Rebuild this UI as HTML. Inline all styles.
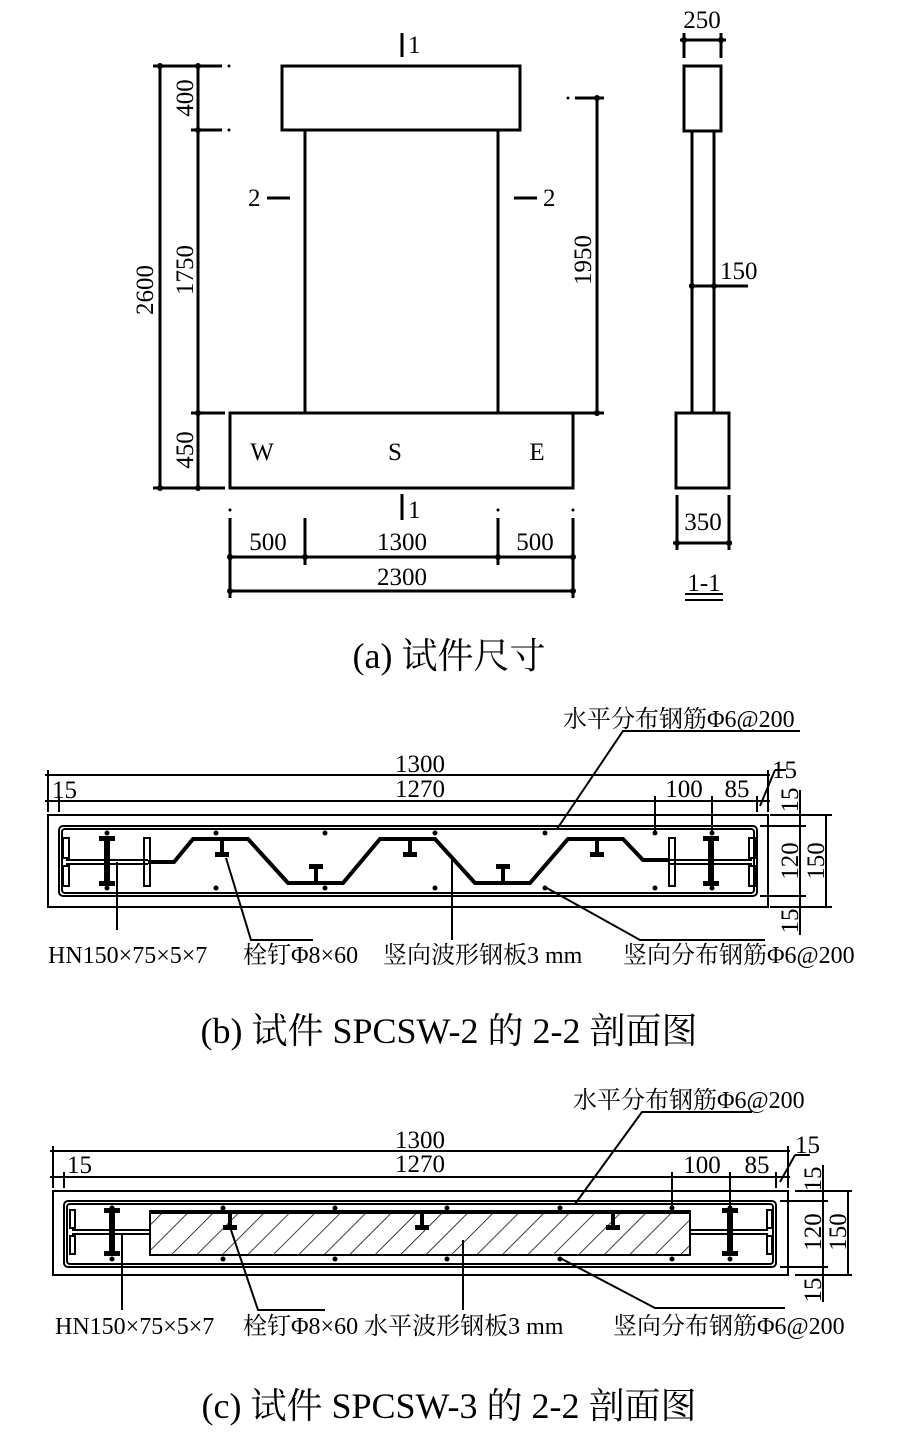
<!DOCTYPE html>
<html><head><meta charset="utf-8"><style>
html,body{margin:0;padding:0;background:#fff;}
svg{display:block;}
text{font-family:"Liberation Serif","Noto Serif CJK SC",serif;fill:#000;}
.n{font-size:25px;}
.c{font-size:24px;}
.cap{font-size:36px;}
</style></head><body>
<svg width="898" height="1447" viewBox="0 0 898 1447" xmlns="http://www.w3.org/2000/svg">
<defs>
<pattern id="h" width="18" height="18" patternUnits="userSpaceOnUse" patternTransform="rotate(45)">
<line x1="0" y1="0" x2="0" y2="18" stroke="#000" stroke-width="1.5"/>
</pattern>
</defs>
<g stroke="#000" fill="none" stroke-width="3">
<rect x="282" y="66" width="238" height="64"/>
<line x1="305" y1="130" x2="305" y2="413"/>
<line x1="498" y1="130" x2="498" y2="413"/>
<rect x="230" y="413" width="343" height="75"/>
<line x1="402" y1="33" x2="402" y2="57"/>
<line x1="402" y1="494" x2="402" y2="520"/>
<line x1="267" y1="198" x2="290" y2="198"/>
<line x1="514" y1="198" x2="537" y2="198"/>
<line x1="160" y1="66" x2="160" y2="488"/>
<line x1="198" y1="66" x2="198" y2="488"/>
<line x1="153" y1="66" x2="222" y2="66"/>
<line x1="191" y1="130" x2="222" y2="130"/>
<line x1="191" y1="413" x2="225" y2="413"/>
<line x1="153" y1="488" x2="225" y2="488"/>
<line x1="597" y1="98" x2="597" y2="413"/>
<line x1="575" y1="98" x2="604" y2="98"/>
<line x1="573" y1="413" x2="604" y2="413"/>
<line x1="230" y1="557" x2="573" y2="557"/>
<line x1="230" y1="591" x2="573" y2="591"/>
<line x1="230" y1="518" x2="230" y2="598"/>
<line x1="305" y1="518" x2="305" y2="565"/>
<line x1="498" y1="518" x2="498" y2="565"/>
<line x1="573" y1="518" x2="573" y2="598"/>
<rect x="684" y="66" width="37" height="65"/>
<line x1="692" y1="131" x2="692" y2="413"/>
<line x1="714" y1="131" x2="714" y2="413"/>
<rect x="676" y="413" width="53" height="75"/>
<line x1="684" y1="33" x2="684" y2="58"/>
<line x1="721" y1="33" x2="721" y2="58"/>
<line x1="680" y1="40" x2="726" y2="40"/>
<line x1="689" y1="286" x2="748" y2="286"/>
<line x1="677" y1="495" x2="677" y2="550"/>
<line x1="729" y1="495" x2="729" y2="550"/>
<line x1="673" y1="543" x2="732" y2="543"/>
<line x1="685" y1="594" x2="723" y2="594" stroke-width="2"/>
<line x1="685" y1="600" x2="723" y2="600" stroke-width="2"/>
</g>
<g fill="#000">
<circle cx="160" cy="66" r="3"/><circle cx="198" cy="66" r="3"/><circle cx="198" cy="130" r="3"/>
<circle cx="198" cy="413" r="3"/><circle cx="160" cy="488" r="3"/><circle cx="198" cy="488" r="3"/>
<circle cx="597" cy="98" r="3"/><circle cx="597" cy="413" r="3"/>
<circle cx="230" cy="557" r="3"/><circle cx="305" cy="557" r="3"/><circle cx="498" cy="557" r="3"/><circle cx="573" cy="557" r="3"/>
<circle cx="230" cy="591" r="3"/><circle cx="573" cy="591" r="3"/>
<circle cx="684" cy="40" r="3"/><circle cx="721" cy="40" r="3"/><circle cx="692" cy="286" r="3"/><circle cx="714" cy="286" r="3"/>
<circle cx="677" cy="543" r="3"/><circle cx="729" cy="543" r="3"/>
<circle cx="229" cy="66" r="1.5"/><circle cx="229" cy="130" r="1.5"/><circle cx="568" cy="98" r="1.5"/>
<circle cx="230" cy="510" r="1.5"/><circle cx="498" cy="510" r="1.5"/><circle cx="573" cy="510" r="1.5"/>
</g>
<text class="n" x="408" y="53">1</text>
<text class="n" x="408" y="518">1</text>
<text class="n" x="248" y="206">2</text>
<text class="n" x="543" y="206">2</text>
<text class="n" transform="translate(153,290) rotate(-90)" text-anchor="middle">2600</text>
<text class="n" transform="translate(193,98) rotate(-90)" text-anchor="middle">400</text>
<text class="n" transform="translate(193,270) rotate(-90)" text-anchor="middle">1750</text>
<text class="n" transform="translate(193,450) rotate(-90)" text-anchor="middle">450</text>
<text class="n" transform="translate(591,260) rotate(-90)" text-anchor="middle">1950</text>
<text class="n" x="262" y="460" text-anchor="middle">W</text>
<text class="n" x="395" y="460" text-anchor="middle">S</text>
<text class="n" x="537" y="460" text-anchor="middle">E</text>
<text class="n" x="268" y="550" text-anchor="middle">500</text>
<text class="n" x="402" y="550" text-anchor="middle">1300</text>
<text class="n" x="535" y="550" text-anchor="middle">500</text>
<text class="n" x="402" y="585" text-anchor="middle">2300</text>
<text class="n" x="702" y="28" text-anchor="middle">250</text>
<text class="n" x="720" y="279">150</text>
<text class="n" x="703" y="530" text-anchor="middle">350</text>
<text class="n" x="704" y="591" text-anchor="middle">1-1</text>
<text class="cap" x="449" y="668" text-anchor="middle">(a)  试件尺寸</text>

<g stroke="#000" fill="none" stroke-width="2">
<rect x="48" y="815" width="720" height="92"/>
<rect x="59" y="826" width="698" height="70" rx="4"/>
<rect x="62" y="829" width="692" height="64" rx="3"/>
<line x1="45" y1="775" x2="770" y2="775"/>
<line x1="45" y1="801" x2="770" y2="801"/>
<line x1="48" y1="770" x2="48" y2="812"/>
<line x1="59" y1="796" x2="59" y2="812"/>
<line x1="768" y1="770" x2="768" y2="812"/>
<line x1="757" y1="796" x2="757" y2="812"/>
<line x1="655" y1="796" x2="655" y2="833"/>
<line x1="712" y1="796" x2="712" y2="833"/>
<line x1="760" y1="806" x2="775" y2="770"/><line x1="775" y1="770" x2="786" y2="770"/>
<line x1="800" y1="790" x2="800" y2="935"/>
<line x1="826" y1="815" x2="826" y2="907"/>
<line x1="770" y1="815" x2="832" y2="815"/>
<line x1="760" y1="826" x2="806" y2="826"/>
<line x1="760" y1="896" x2="806" y2="896"/>
<line x1="770" y1="907" x2="832" y2="907"/>
<line x1="66" y1="860" x2="148" y2="860"/><line x1="66" y1="864" x2="148" y2="864"/>
<line x1="670" y1="860" x2="752" y2="860"/><line x1="670" y1="864" x2="752" y2="864"/>
<rect x="63" y="838" width="6" height="20"/><rect x="63" y="866" width="6" height="20"/>
<rect x="144" y="838" width="6" height="48"/>
<rect x="669" y="838" width="6" height="48"/>
<rect x="749" y="838" width="6" height="20"/><rect x="749" y="866" width="6" height="20"/>
<polyline points="117,862 117,930"/>
<polyline points="226,858 251,940 313,940"/>
<polyline points="452,860 452,940"/>
<polyline points="557,829 623,731 800,731"/>
<polyline points="545,887 640,940 765,940"/>
</g>
<polyline points="148,862 174,862 193,839 248,839 288,883 343,883 380,839 435,839 475,883 530,883 568,839 623,839 643,860 670,860" fill="none" stroke="#000" stroke-width="4"/>
<g fill="#000">
<rect x="104" y="838" width="6" height="46"/><rect x="99" y="836" width="16" height="5"/><rect x="99" y="881" width="16" height="5"/>
<rect x="708" y="838" width="6" height="46"/><rect x="703" y="836" width="16" height="5"/><rect x="703" y="881" width="16" height="5"/>
<rect x="220" y="839" width="4" height="14"/><rect x="215" y="852" width="14" height="5"/>
<rect x="408" y="839" width="4" height="14"/><rect x="403" y="852" width="14" height="5"/>
<rect x="595" y="839" width="4" height="14"/><rect x="590" y="852" width="14" height="5"/>
<rect x="314" y="869" width="4" height="14"/><rect x="309" y="864" width="14" height="5"/>
<rect x="501" y="869" width="4" height="14"/><rect x="496" y="864" width="14" height="5"/>
<circle cx="107" cy="833" r="2.5"/><circle cx="216" cy="833" r="2.5"/><circle cx="325" cy="833" r="2.5"/><circle cx="435" cy="833" r="2.5"/><circle cx="545" cy="833" r="2.5"/><circle cx="655" cy="833" r="2.5"/><circle cx="712" cy="833" r="2.5"/>
<circle cx="107" cy="888" r="2.5"/><circle cx="216" cy="888" r="2.5"/><circle cx="325" cy="888" r="2.5"/><circle cx="435" cy="888" r="2.5"/><circle cx="545" cy="888" r="2.5"/><circle cx="655" cy="888" r="2.5"/><circle cx="712" cy="888" r="2.5"/>
</g>
<text class="n" x="420" y="772" text-anchor="middle">1300</text>
<text class="n" x="420" y="797" text-anchor="middle">1270</text>
<text class="n" x="52" y="798">15</text>
<text class="n" x="684" y="797" text-anchor="middle">100</text>
<text class="n" x="737" y="797" text-anchor="middle">85</text>
<text class="n" x="772" y="778">15</text>
<text class="n" transform="translate(798,800) rotate(-90)" text-anchor="middle">15</text>
<text class="n" transform="translate(798,861) rotate(-90)" text-anchor="middle">120</text>
<text class="n" transform="translate(798,921) rotate(-90)" text-anchor="middle">15</text>
<text class="n" transform="translate(824,861) rotate(-90)" text-anchor="middle">150</text>
<text class="c" x="563" y="727">水平分布钢筋Φ6@200</text>
<text class="c" x="48" y="963">HN150×75×5×7</text>
<text class="c" x="243" y="963">栓钉Φ8×60</text>
<text class="c" x="383" y="963">竖向波形钢板3 mm</text>
<text class="c" x="623" y="963">竖向分布钢筋Φ6@200</text>
<text class="cap" x="449" y="1043" text-anchor="middle">(b)  试件 SPCSW-2 的 2-2 剖面图</text>

<g stroke="#000" fill="none" stroke-width="2">
<rect x="53" y="1191" width="735" height="84"/>
<rect x="64" y="1201" width="712" height="66" rx="4"/>
<rect x="67" y="1204" width="706" height="60" rx="3"/>
<rect x="150" y="1211" width="540" height="44" fill="url(#h)"/>
<line x1="50" y1="1151" x2="790" y2="1151"/>
<line x1="50" y1="1177" x2="790" y2="1177"/>
<line x1="53" y1="1146" x2="53" y2="1188"/>
<line x1="64" y1="1172" x2="64" y2="1188"/>
<line x1="788" y1="1146" x2="788" y2="1188"/>
<line x1="776" y1="1172" x2="776" y2="1188"/>
<line x1="672" y1="1172" x2="672" y2="1208"/>
<line x1="730" y1="1172" x2="730" y2="1208"/>
<line x1="780" y1="1182" x2="795" y2="1155"/><line x1="795" y1="1155" x2="810" y2="1155"/>
<line x1="823" y1="1165" x2="823" y2="1302"/>
<line x1="848" y1="1191" x2="848" y2="1275"/>
<line x1="795" y1="1191" x2="852" y2="1191"/>
<line x1="780" y1="1201" x2="828" y2="1201"/>
<line x1="780" y1="1267" x2="828" y2="1267"/>
<line x1="795" y1="1275" x2="852" y2="1275"/>
<line x1="72" y1="1230" x2="150" y2="1230"/><line x1="72" y1="1234" x2="150" y2="1234"/>
<line x1="690" y1="1230" x2="768" y2="1230"/><line x1="690" y1="1234" x2="768" y2="1234"/>
<rect x="70" y="1210" width="5" height="18"/><rect x="70" y="1236" width="5" height="18"/>
<rect x="767" y="1210" width="5" height="18"/><rect x="767" y="1236" width="5" height="18"/>
<polyline points="122,1234 122,1310"/>
<polyline points="231,1230 258,1310 325,1310"/>
<polyline points="463,1240 463,1310"/>
<polyline points="575,1204 642,1112 752,1112"/>
<polyline points="560,1258 655,1308 785,1308"/>
</g>
<line x1="150" y1="1212" x2="690" y2="1212" stroke="#000" stroke-width="4"/>
<g fill="#000">
<rect x="109" y="1210" width="6" height="44"/><rect x="104" y="1208" width="16" height="5"/><rect x="104" y="1251" width="16" height="5"/>
<rect x="727" y="1210" width="6" height="44"/><rect x="722" y="1208" width="16" height="5"/><rect x="722" y="1251" width="16" height="5"/>
<rect x="228" y="1213" width="4" height="13"/><rect x="223" y="1225" width="14" height="5"/>
<rect x="420" y="1213" width="4" height="13"/><rect x="415" y="1225" width="14" height="5"/>
<rect x="611" y="1213" width="4" height="13"/><rect x="606" y="1225" width="14" height="5"/>
<circle cx="112" cy="1208" r="2.5"/><circle cx="223" cy="1208" r="2.5"/><circle cx="335" cy="1208" r="2.5"/><circle cx="447" cy="1208" r="2.5"/><circle cx="560" cy="1208" r="2.5"/><circle cx="672" cy="1208" r="2.5"/><circle cx="730" cy="1208" r="2.5"/>
<circle cx="112" cy="1259" r="2.5"/><circle cx="223" cy="1259" r="2.5"/><circle cx="335" cy="1259" r="2.5"/><circle cx="447" cy="1259" r="2.5"/><circle cx="560" cy="1259" r="2.5"/><circle cx="672" cy="1259" r="2.5"/><circle cx="730" cy="1259" r="2.5"/>
</g>
<text class="n" x="420" y="1148" text-anchor="middle">1300</text>
<text class="n" x="420" y="1172" text-anchor="middle">1270</text>
<text class="n" x="67" y="1173">15</text>
<text class="n" x="702" y="1173" text-anchor="middle">100</text>
<text class="n" x="757" y="1173" text-anchor="middle">85</text>
<text class="n" x="795" y="1153">15</text>
<text class="n" transform="translate(821,1179) rotate(-90)" text-anchor="middle">15</text>
<text class="n" transform="translate(821,1232) rotate(-90)" text-anchor="middle">120</text>
<text class="n" transform="translate(821,1290) rotate(-90)" text-anchor="middle">15</text>
<text class="n" transform="translate(846,1232) rotate(-90)" text-anchor="middle">150</text>
<text class="c" x="573" y="1108">水平分布钢筋Φ6@200</text>
<text class="c" x="55" y="1334">HN150×75×5×7</text>
<text class="c" x="243" y="1334">栓钉Φ8×60 水平波形钢板3 mm</text>
<text class="c" x="613" y="1334">竖向分布钢筋Φ6@200</text>
<text class="cap" x="449" y="1418" text-anchor="middle">(c)  试件 SPCSW-3 的 2-2 剖面图</text>
</svg>
</body></html>
